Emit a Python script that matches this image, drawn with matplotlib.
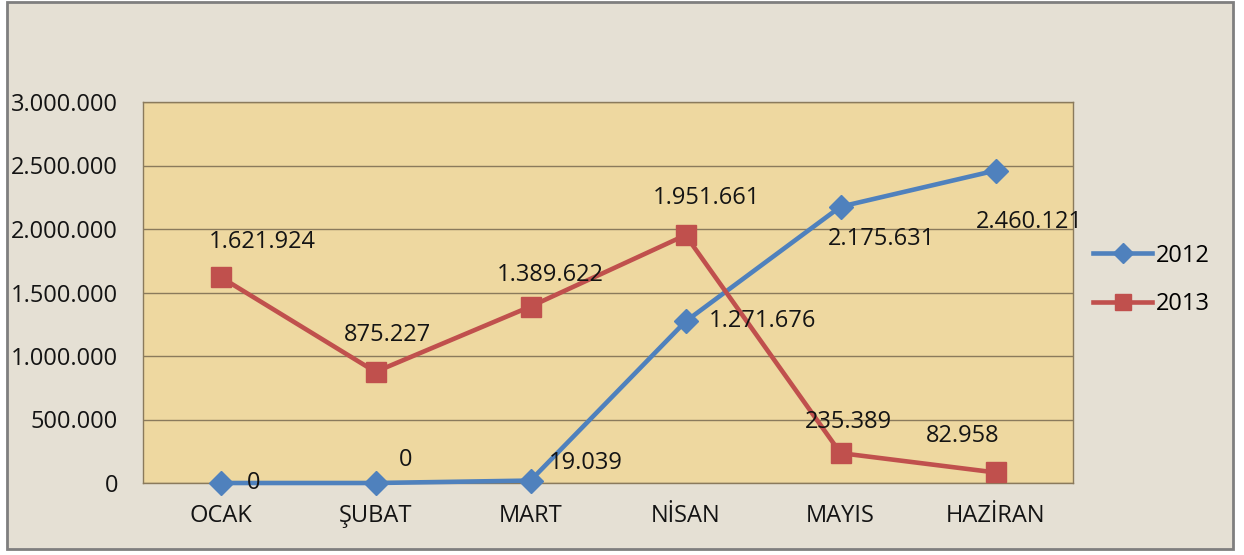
import numpy as np
from matplotlib import pyplot as plt
from matplotlib.patches import Rectangle

# data
months = ['OCAK', 'ŞUBAT', 'MART', 'NİSAN', 'MAYIS', 'HAZİRAN']
values_2012 = [0, 0, 19039, 1271676, 2175631, 2460121]
values_2013 = [1621924, 875227, 1389622, 1951661, 235389, 82958]
y_ticks = [0, 500000, 1000000, 1500000, 2000000, 2500000, 3000000]

# label offsets in pixels (dx, dy), hand-placed like the original
offsets_2012 = [(33, 0), (30, 23), (55, 18), (77, 0), (41, -32), (34, -51)]
offsets_2013 = [(42, 35), (12, 37), (20, 32), (21, 37), (8, 31), (-33, 36)]

BLUE = '#4F81BD'
RED = '#C0504D'
FONT = 'Open Sans'
FSIZE = 17


def fmt_tr(v):
    """ thousands separator with dots, like the Turkish excel output"""
    return '{:,}'.format(int(v)).replace(',', '.')


def main():
    plt.rcParams['font.family'] = [FONT, 'DejaVu Sans']

    fig = plt.figure(figsize=(12.44, 5.55), dpi=100, facecolor='white')
    W, H = 1244, 555

    # outer chart frame
    frame = Rectangle((7 / W, 6 / H), 1226 / W, 547 / H, transform=fig.transFigure,
                      facecolor='#E5E0D4', edgecolor='#7F7F7F', linewidth=2, zorder=-10)
    fig.patches.append(frame)

    ax = fig.add_axes([143 / W, (H - 483) / H, 930 / W, 381 / H])
    ax.set_facecolor('#EED8A0')

    x = np.arange(len(months)) + 0.5

    ax.plot(x, values_2012, color=BLUE, linewidth=3.3, marker='D', markersize=12,
            label='2012', zorder=3, clip_on=False)
    ax.plot(x, values_2013, color=RED, linewidth=3.3, marker='s', markersize=14,
            label='2013', zorder=3, clip_on=False)

    for xi, v, (dx, dy) in zip(x, values_2012, offsets_2012):
        ax.annotate(fmt_tr(v), (xi, v), xytext=(dx, dy), textcoords='offset pixels',
                    ha='center', va='center', fontsize=FSIZE, color='#141414',
                    annotation_clip=False, zorder=4)
    for xi, v, (dx, dy) in zip(x, values_2013, offsets_2013):
        ax.annotate(fmt_tr(v), (xi, v), xytext=(dx, dy), textcoords='offset pixels',
                    ha='center', va='center', fontsize=FSIZE, color='#141414',
                    annotation_clip=False, zorder=4)

    ax.set_xlim(0, len(months))
    ax.set_ylim(0, 3000000)
    ax.set_xticks(x)
    ax.set_xticklabels(months)
    ax.set_yticks(y_ticks)
    ax.set_yticklabels([fmt_tr(v) for v in y_ticks])
    ax.tick_params(axis='both', length=0, labelsize=FSIZE, colors='#141414')
    ax.tick_params(axis='y', pad=18)
    ax.tick_params(axis='x', pad=15)

    ax.yaxis.grid(True, color='#8A7A5C', linewidth=1)
    ax.set_axisbelow(True)
    for s in ax.spines.values():
        s.set_color('#8A7A5C')
        s.set_linewidth(1)

    ax.legend(loc='center left', bbox_to_anchor=(1093 / W, (H - 280) / H),
              bbox_transform=fig.transFigure, frameon=False, fontsize=FSIZE,
              handlelength=2.5, handletextpad=0.15, labelspacing=1.05,
              borderpad=0, borderaxespad=0, markerscale=0.85)

    fig.savefig('out.png', dpi=100, facecolor='white')


if __name__ == '__main__':
    main()
